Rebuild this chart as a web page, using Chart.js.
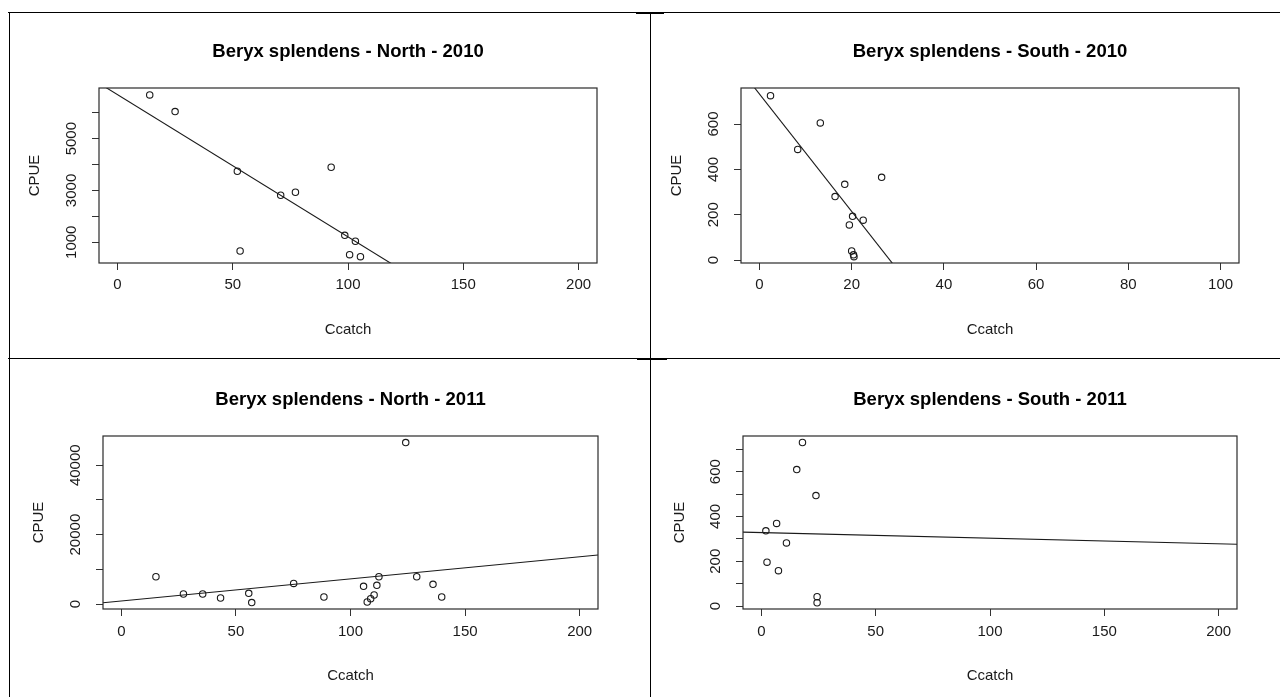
<!DOCTYPE html>
<html>
<head>
<meta charset="utf-8">
<script src="https://cdn.jsdelivr.net/npm/chart.js@4.4.1/dist/chart.umd.min.js"></script>
<style>
  body { margin: 0; background: #fff; width: 1283px; height: 697px; overflow: hidden; position: relative; }
  .ln { position: absolute; background: #000; }
  canvas { position: absolute; }
</style>
</head>
<body>
<div class="ln" style="left:8px;top:12px;width:1272px;height:1px"></div>
<div class="ln" style="left:636px;top:12px;width:28px;height:2px"></div>
<div class="ln" style="left:8px;top:358px;width:1272px;height:1px"></div>
<div class="ln" style="left:637px;top:358px;width:30px;height:2px"></div>
<div class="ln" style="left:9px;top:12px;width:1px;height:685px"></div>
<div class="ln" style="left:650px;top:12px;width:1px;height:685px"></div>

<canvas id="c0" width="638" height="345" style="left:10px;top:13px"></canvas>
<canvas id="c1" width="628" height="345" style="left:652px;top:13px"></canvas>
<canvas id="c2" width="638" height="336" style="left:10px;top:361px"></canvas>
<canvas id="c3" width="628" height="336" style="left:652px;top:361px"></canvas>

<script>
// ---- data ----
const titles = [
  'Beryx splendens - North - 2010',
  'Beryx splendens - South - 2010',
  'Beryx splendens - North - 2011',
  'Beryx splendens - South - 2011'
];

const northCatch2010 = [14.0, 25.0, 52.0, 53.2, 70.8, 77.2, 92.7, 98.6, 103.2, 100.7, 105.4];
const northCpue2010 = [6687, 6043, 3741, 664, 2815, 2930, 3896, 1270, 1039, 521, 444];

const southCatch2010 = [2.4, 13.2, 8.3, 26.5, 18.5, 16.4, 20.2, 22.5, 19.5, 20.0, 20.4, 20.5];
const southCpue2010 = [725, 605, 488, 365, 334, 280, 193, 176, 155, 40, 23, 15];

const northCatch2011 = [15.1, 27.1, 35.5, 43.3, 55.6, 56.9, 75.2, 88.4, 105.7, 107.3, 108.8, 110.3, 111.5, 112.4, 124.1, 128.9, 136.0, 139.8];
const northCpue2011 = [7856, 2878, 2878, 1727, 3070, 400, 5947, 2014, 5090, 576, 1535, 2590, 5372, 7860, 46523, 7860, 5660, 2014];

const southCatch2011 = [18.0, 15.5, 23.9, 6.7, 2.0, 11.0, 2.5, 7.5, 24.4, 24.4];
const southCpue2011 = [730, 609, 493, 369, 336, 282, 196, 158, 42, 15];

// fitted lines (CPUE = intercept + slope * Ccatch)
const fitIntercept = [6699, 732.5, 860, 328];
const fitSlope = [-54.9, -25.9, 63.7, -0.25];

// axes
const xTicks = [
  [0, 50, 100, 150, 200],
  [0, 20, 40, 60, 80, 100],
  [0, 50, 100, 150, 200],
  [0, 50, 100, 150, 200]
];
const yTicks = [
  [1000, 2000, 3000, 4000, 5000, 6000],
  [0, 200, 400, 600],
  [0, 10000, 20000, 30000, 40000],
  [0, 100, 200, 300, 400, 500, 600, 700]
];
const yLabelled = [
  [1000, 3000, 5000],
  [0, 200, 400, 600],
  [0, 20000, 40000],
  [0, 200, 400, 600]
];
const xRange = [[-8, 208], [-4, 104], [-8, 208], [-8, 208]];
const yRange = [[200, 6954], [-13, 759], [-1439, 48432], [-13, 759]];

const catches = [northCatch2010, southCatch2010, northCatch2011, southCatch2011];
const cpues = [northCpue2010, southCpue2010, northCpue2011, southCpue2011];

// ---- layout (page pixels) ----
const panels = [
  { cell: [10, 13, 638, 345], plot: [99, 88, 597, 263], titleY: 52, xTickY: 285, xTitleY: 330, yTitleX: 35 },
  { cell: [652, 13, 628, 345], plot: [741, 88, 1239, 263], titleY: 52, xTickY: 285, xTitleY: 330, yTitleX: 677 },
  { cell: [10, 361, 638, 336], plot: [103, 436, 598, 609], titleY: 400, xTickY: 632, xTitleY: 676, yTitleX: 39 },
  { cell: [652, 361, 628, 336], plot: [743, 436, 1237, 609], titleY: 400, xTickY: 632, xTitleY: 676, yTitleX: 680 }
];

const FONT = "'Liberation Sans', Arial, sans-serif";
const TICK = 7;
const AXIS_W = 75;
const AXIS_H = 80;
const LBL = 15, LBL_LH = LBL * 1.2;
const TTL = 18.5, TTL_LH = TTL * 1.2;
const INK = '#1a1a1a';

Chart.defaults.font.family = FONT;

const measure = document.createElement('canvas').getContext('2d');
measure.font = LBL + 'px ' + FONT;

const frame = {
  id: 'frame',
  afterDatasetsDraw(chart) {
    const a = chart.chartArea, c = chart.ctx;
    c.save();
    c.strokeStyle = '#2a2a2a';
    c.lineWidth = 1.2;
    c.strokeRect(a.left, a.top, a.right - a.left, a.bottom - a.top);
    c.restore();
  }
};

panels.forEach((p, i) => {
  const [cl, ct, cw, ch] = p.cell;
  const [pl, pt, pr, pb] = p.plot;
  const widest = Math.max(...yLabelled[i].map(v => measure.measureText(String(v)).width));
  const yPad = 27.5 - TICK - widest / 2;
  const titleTop = p.titleY - ct - TTL_LH / 2;
  const titleBottom = (pt - ct) - titleTop - TTL_LH;

  const [x0, x1] = xRange[i];
  new Chart(document.getElementById('c' + i), {
    type: 'scatter',
    data: {
      datasets: [
        {
          data: catches[i].map((x, j) => ({ x: x, y: cpues[i][j] })),
          pointStyle: 'circle',
          radius: 3.2,
          backgroundColor: 'rgba(0,0,0,0)',
          borderColor: INK,
          borderWidth: 1.1
        },
        {
          type: 'line',
          data: [
            { x: x0, y: fitIntercept[i] + fitSlope[i] * x0 },
            { x: x1, y: fitIntercept[i] + fitSlope[i] * x1 }
          ],
          borderColor: INK,
          borderWidth: 1.1,
          pointRadius: 0,
          fill: false
        }
      ]
    },
    options: {
      responsive: false,
      animation: false,
      layout: {
        padding: {
          left: pl - cl - AXIS_W,
          top: 0,
          right: cl + cw - pr,
          bottom: ct + ch - pb - AXIS_H
        }
      },
      plugins: {
        legend: { display: false },
        tooltip: { enabled: false },
        title: {
          display: true,
          text: titles[i],
          fullSize: false,
          color: '#000',
          font: { size: TTL, weight: 'bold' },
          padding: { top: titleTop, bottom: titleBottom }
        }
      },
      scales: {
        x: {
          type: 'linear',
          min: x0,
          max: x1,
          afterBuildTicks: s => { s.ticks = xTicks[i].map(v => ({ value: v })); },
          afterFit: s => { s.height = AXIS_H; },
          grid: { drawOnChartArea: false, tickLength: TICK, color: '#333' },
          border: { display: false },
          ticks: {
            autoSkip: false,
            maxRotation: 0,
            padding: p.xTickY - pb - TICK - LBL_LH / 2,
            color: INK,
            font: { size: LBL },
            callback: v => String(v)
          },
          title: {
            display: true,
            text: 'Ccatch',
            color: INK,
            font: { size: LBL },
            padding: { top: 0, bottom: pb + AXIS_H - LBL_LH / 2 - p.xTitleY }
          }
        },
        y: {
          type: 'linear',
          min: yRange[i][0],
          max: yRange[i][1],
          afterBuildTicks: s => { s.ticks = yTicks[i].map(v => ({ value: v })); },
          afterFit: s => { s.width = AXIS_W; },
          grid: { drawOnChartArea: false, tickLength: TICK, color: '#333' },
          border: { display: false },
          ticks: {
            autoSkip: false,
            minRotation: 90,
            maxRotation: 90,
            crossAlign: 'center',
            padding: yPad,
            color: INK,
            font: { size: LBL },
            callback: v => (yLabelled[i].includes(v) ? String(v) : '')
          },
          title: {
            display: true,
            text: 'CPUE',
            color: INK,
            font: { size: LBL },
            padding: { top: p.yTitleX - (pl - AXIS_W) - LBL_LH / 2, bottom: 0 }
          }
        }
      }
    },
    plugins: [frame]
  });
});
</script>
</body>
</html>
